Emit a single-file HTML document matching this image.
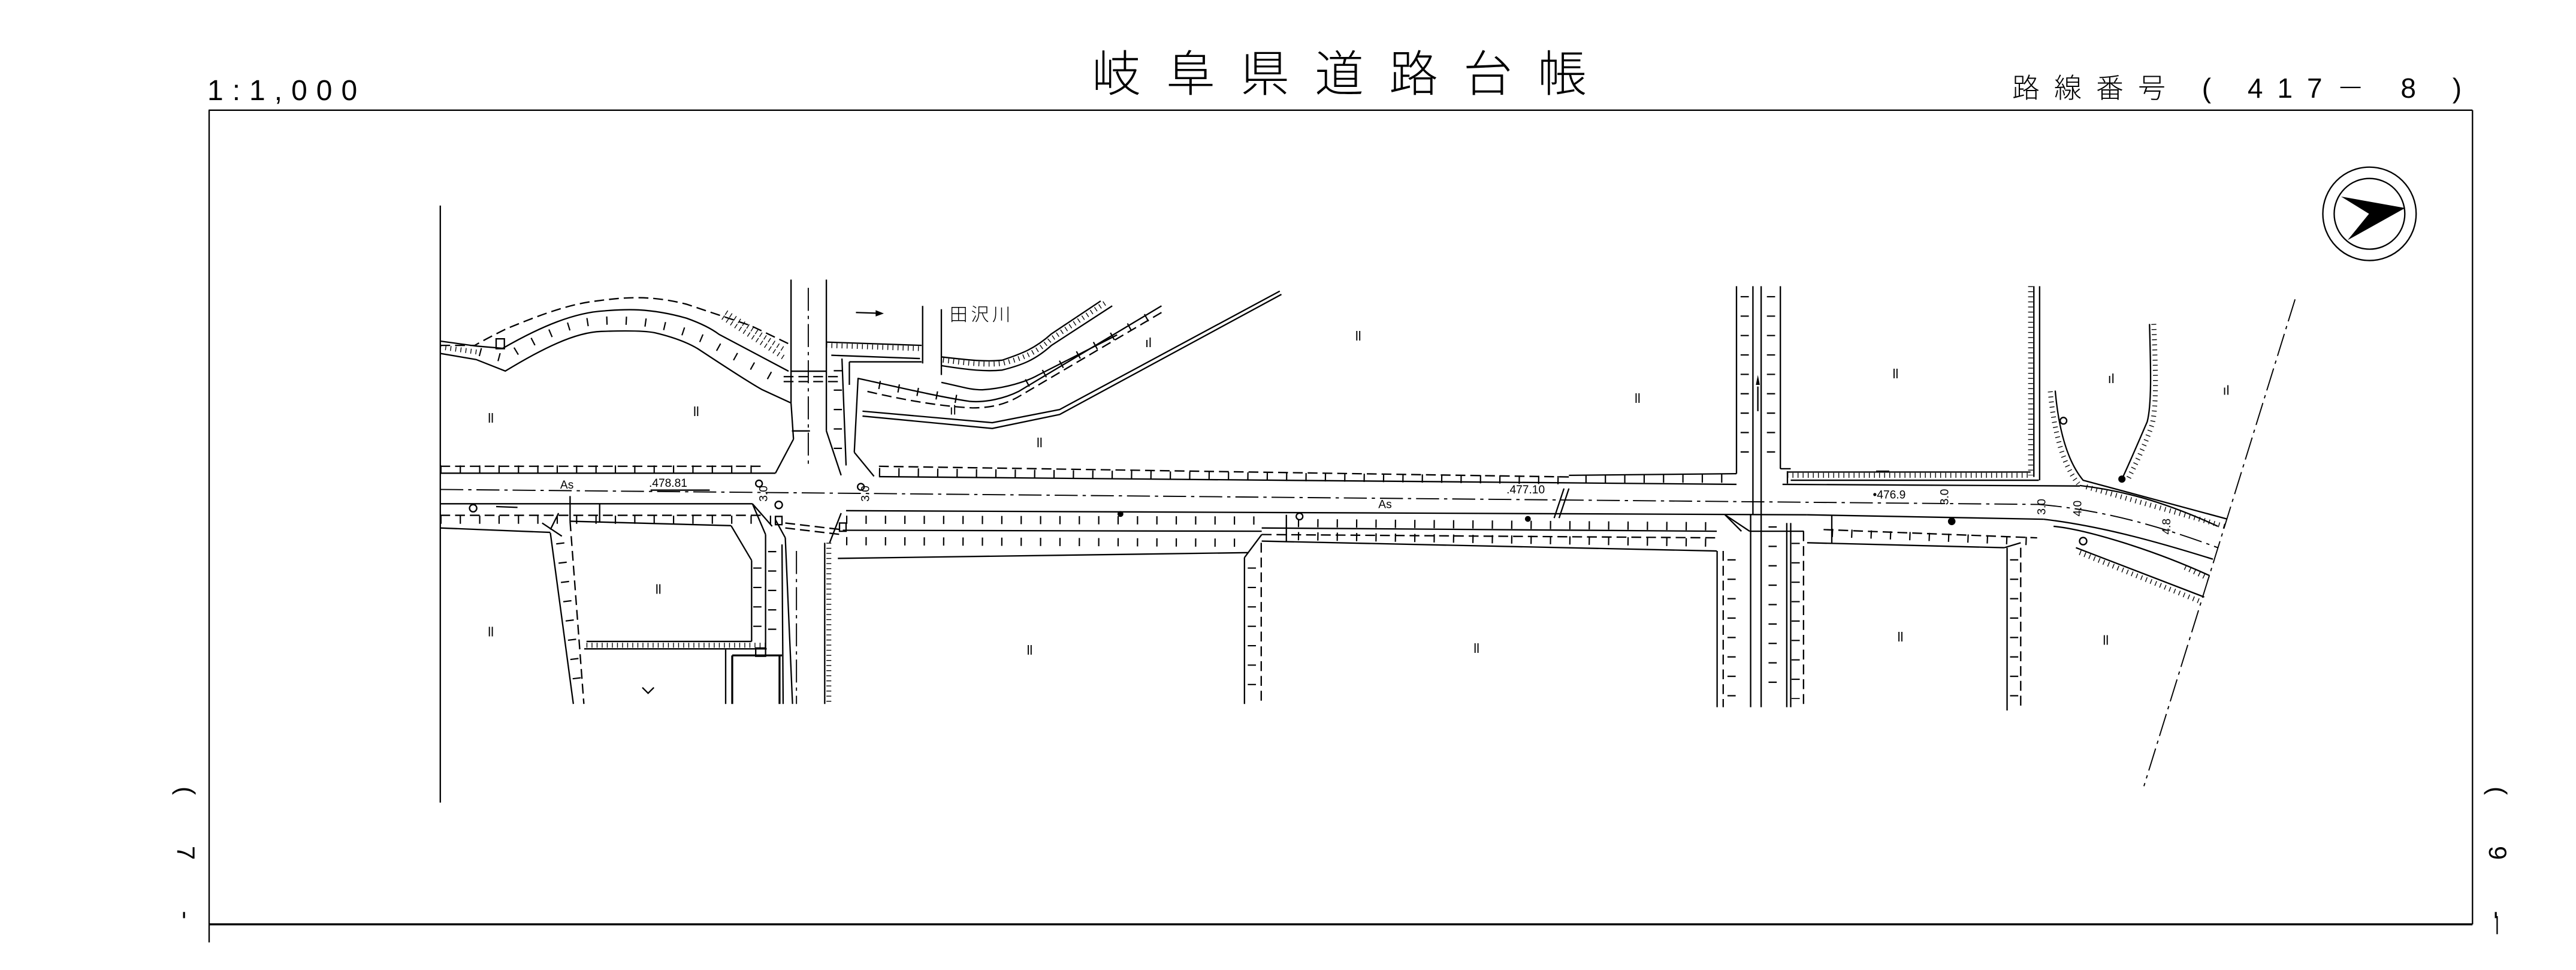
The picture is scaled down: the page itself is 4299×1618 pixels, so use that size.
<!DOCTYPE html>
<html><head><meta charset="utf-8">
<style>
html,body{margin:0;padding:0;background:#fff;}
body{width:4299px;height:1572px;position:relative;overflow:hidden;font-family:"Liberation Sans","Noto Sans CJK JP",sans-serif;}
.t{position:absolute;white-space:nowrap;color:#000;line-height:1;}
svg{position:absolute;left:0;top:0;}
.s{stroke:#000;fill:none;stroke-width:0.85}
.b{stroke:#000;fill:none;stroke-width:1.2}
.d{stroke:#000;fill:none;stroke-width:0.85;stroke-dasharray:6 3}
.c{stroke:#000;fill:none;stroke-width:0.7;stroke-dasharray:14 3 2 3}
.tk{stroke:#000;fill:none;stroke-width:5;stroke-dasharray:0.8 11}
.h{stroke:#000;fill:none;stroke-width:3;stroke-dasharray:0.5 2.6}
.l{font-family:"Liberation Sans",sans-serif;font-size:7px;fill:#000;}
.g{font-family:"Liberation Sans",sans-serif;font-size:8px;fill:#000;}
</style></head><body>

<div class="t" style="left:1822px;top:76px;font-size:82px;letter-spacing:42px;font-family:'Noto Sans CJK JP',sans-serif;font-weight:300;">岐阜県道路台帳</div>
<div class="t" style="left:346px;top:128px;font-size:48px;letter-spacing:15px;">1:1,000</div>
<div class="t" style="left:3358px;top:124px;font-size:46px;letter-spacing:24px;font-family:'Liberation Sans','Noto Sans CJK JP',sans-serif;font-weight:300;">路線番号 ( 417－ 8 )</div>
<div class="t" style="left:331px;top:1312px;font-size:42px;letter-spacing:85px;transform:rotate(90deg);transform-origin:0 0;">(7-</div>
<div class="t" style="left:4189px;top:1312px;font-size:42px;letter-spacing:85px;transform:rotate(90deg);transform-origin:0 0;">(9-</div>

<svg width="4299" height="1572" viewBox="0 0 1568 573" preserveAspectRatio="none">
<!-- frame -->
<line class="s" x1="127" y1="67" x2="1505" y2="67"/>
<line class="s" x1="127.3" y1="67" x2="127.3" y2="573"/>
<line class="s" x1="1505" y1="67" x2="1505" y2="562"/>
<line class="b" x1="127" y1="562" x2="1505" y2="562"/>
<line class="s" x1="1520" y1="557" x2="1520" y2="568"/>
<line class="s" x1="268" y1="125" x2="268" y2="488"/>
<line class="c" x1="1397" y1="182" x2="1305" y2="478"/>

<!-- north arrow -->
<circle cx="1442.3" cy="130" r="28.4" class="s" stroke-width="0.6"/>
<circle cx="1442.3" cy="130" r="21.5" class="s" stroke-width="0.6"/>
<polygon points="1425,119.5 1464,126.5 1429,146 1442,130" fill="#000"/>

<!-- main road -->
<line class="d" x1="268" y1="283.5" x2="466" y2="283.5"/>
<line class="tk" x1="268" y1="285.5" x2="466" y2="285.5"/>
<line class="s" x1="268" y1="287.7" x2="472" y2="287.7"/>
<line class="d" x1="535" y1="283.5" x2="955" y2="290"/>
<line class="tk" x1="535" y1="287" x2="955" y2="292"/>
<line class="s" x1="535" y1="289.8" x2="1057" y2="294.5"/>
<line class="s" x1="955" y1="289" x2="1057" y2="288"/>
<line class="tk" x1="965" y1="291" x2="1050" y2="291"/>
<line class="s" x1="1085" y1="294.5" x2="1266" y2="295.5"/>
<line class="s" x1="1088" y1="286.5" x2="1088" y2="294"/>
<line class="s" x1="1088" y1="287" x2="1236" y2="287"/>
<line class="h" x1="1088" y1="289" x2="1236" y2="289"/>
<line class="s" x1="1090" y1="292" x2="1241" y2="292"/>
<line class="s" x1="1142" y1="286.5" x2="1150" y2="286.5"/>
<line class="c" x1="268" y1="297.6" x2="1241" y2="306.7"/>
<line class="s" x1="268" y1="306.3" x2="458" y2="306.3"/>
<line class="s" x1="515" y1="310.5" x2="1100" y2="313"/>
<line class="s" x1="1100" y1="313" x2="1244" y2="315.7"/>
<line class="d" x1="268" y1="313.3" x2="465" y2="313.3"/>
<line class="tk" x1="268" y1="316" x2="470" y2="316"/>
<line class="s" x1="268" y1="321" x2="335" y2="323.7"/>
<line class="s" x1="347" y1="316.9" x2="445" y2="319.6"/>
<line class="s" x1="347" y1="301.6" x2="347" y2="317"/>
<line class="s" x1="365" y1="306" x2="365" y2="317"/>
<line class="s" x1="445" y1="319.6" x2="457.5" y2="340.7"/>
<line class="s" x1="458" y1="306.3" x2="470" y2="320"/>
<line class="tk" x1="515" y1="316" x2="768" y2="316.5"/>
<line class="s" x1="513" y1="322.4" x2="768" y2="323"/>
<line class="tk" x1="515" y1="329" x2="760" y2="330"/>
<line class="s" x1="510" y1="339.5" x2="760" y2="336"/>
<line class="s" x1="768" y1="321" x2="1045" y2="323"/>
<line class="tk" x1="790" y1="318" x2="1045" y2="320"/>
<line class="d" x1="768" y1="325" x2="1045" y2="327"/>
<line class="tk" x1="790" y1="326" x2="1045" y2="330"/>
<line class="s" x1="768" y1="329" x2="1045" y2="335"/>
<line class="s" x1="783" y1="313" x2="783" y2="329"/>
<line class="s" x1="1050" y1="313" x2="1065" y2="323"/>
<line class="s" x1="1065" y1="323" x2="1098" y2="323"/>
<line class="d" x1="1110" y1="322" x2="1240" y2="327"/>
<line class="tk" x1="1115" y1="324" x2="1235" y2="329"/>
<line class="s" x1="1100" y1="330" x2="1220" y2="333"/>
<line class="s" x1="1115" y1="313" x2="1115" y2="330"/>

<!-- intersection 1 north road -->
<line class="s" x1="481.5" y1="170" x2="481.5" y2="245"/>
<line class="s" x1="481.5" y1="245" x2="483" y2="267"/>
<line class="s" x1="483" y1="267" x2="472" y2="287.7"/>
<line class="s" x1="503" y1="170" x2="503" y2="262"/>
<line class="s" x1="503" y1="262" x2="512" y2="289"/>
<line class="s" x1="481.5" y1="225.7" x2="503" y2="225.7"/>
<line class="d" x1="477" y1="229" x2="510" y2="229"/>
<line class="d" x1="477" y1="232" x2="510" y2="232"/>
<line class="s" x1="482" y1="262" x2="493" y2="262"/>
<line class="s" x1="512.5" y1="218" x2="515" y2="283"/>
<line class="s" x1="522.3" y1="230" x2="520" y2="275"/>
<line class="s" x1="520" y1="275" x2="532" y2="289.6"/>
<line class="tk" x1="510" y1="225" x2="510" y2="280"/>
<line class="c" x1="492" y1="175" x2="492" y2="285"/>
<line class="s" x1="458" y1="306.3" x2="466" y2="325"/>
<line class="s" x1="466" y1="325" x2="466" y2="395"/>
<line class="s" x1="476" y1="331" x2="476.7" y2="428"/>
<line class="s" x1="472" y1="316" x2="478" y2="327"/>
<line class="s" x1="478" y1="327" x2="482.4" y2="428"/>
<line class="c" x1="484.8" y1="335" x2="484.8" y2="428"/>
<line class="s" x1="512" y1="312" x2="505" y2="330"/>
<line class="s" x1="502" y1="330" x2="502" y2="428"/>
<line class="h" x1="504.5" y1="330" x2="504.5" y2="428"/>
<line class="tk" x1="470" y1="335" x2="470" y2="390"/>
<line class="d" x1="478" y1="318" x2="512" y2="322"/>
<line class="d" x1="478" y1="321" x2="512" y2="325"/>
<rect x="472" y="314" width="4" height="5" class="s" stroke-width="0.6"/>
<rect x="511" y="318" width="4" height="5" class="s" stroke-width="0.6"/>
<circle cx="474" cy="307" r="2.2" class="s" stroke-width="0.6"/>
<circle cx="288" cy="309" r="2.2" class="s" stroke-width="0.6"/>
<line class="s" x1="302" y1="308" x2="315" y2="308.5"/>

<!-- left south street & block -->
<line class="s" x1="335" y1="324" x2="349" y2="428"/>
<line class="d" x1="347" y1="317" x2="355.4" y2="428"/>
<line class="tk" x1="341" y1="330" x2="352" y2="420"/>
<line class="s" x1="335" y1="322" x2="340" y2="312"/>
<line class="s" x1="330" y1="318" x2="342" y2="326"/>
<line class="s" x1="457.5" y1="340.7" x2="457.5" y2="390"/>
<line class="s" x1="357" y1="390" x2="457.5" y2="390"/>
<line class="h" x1="357" y1="392.3" x2="466" y2="392.3"/>
<line class="s" x1="355.6" y1="394.5" x2="466.7" y2="394.5"/>
<line class="tk" x1="461" y1="345" x2="461" y2="388"/>
<line class="s" x1="441.7" y1="395" x2="441.7" y2="428"/>
<line class="b" x1="445.7" y1="398.5" x2="476" y2="398.5"/>
<line class="b" x1="445.7" y1="398.5" x2="445.7" y2="428"/>
<line class="b" x1="474.5" y1="398.5" x2="474.5" y2="428"/>
<rect x="460" y="394" width="6" height="5" class="s" stroke-width="0.6"/>

<!-- upper-left curved road -->
<path class="d" d="M268,210 L289,210 C296,206 300,204 308,200 C325,193 345,185 363,183 C378,181 395,179 418,185 C430,189 445,194 457,198 L480,209"/>
<path class="s" d="M268,207.4 L289.8,210.4 L306,211.8 C330,198 350,190 368,189 C380,188 395,187 418,193.5 C425,196 432,199 437.7,203.3 L480,225.7"/>
<path class="s" d="M268,214.9 L289.8,218.6 L307.6,225.6 C330,212 350,202 366,201.5 C380,201 392,201 398.5,202.3 C410,205 418,208 424.7,212 C440,222 455,232 463.7,236.8 L481.5,245"/>
<line class="h" x1="268" y1="211" x2="290" y2="214"/>
<path class="tk" d="M292,214 L307,218 C330,203 350,195 368,195 C390,194 410,198 430,207 L475,232"/>
<path class="h" d="M440,193 L478,218" />
<path class="h" d="M442,190 L478,213" />
<rect x="302" y="206" width="5" height="6" class="s" stroke-width="0.5"/>

<!-- river -->
<line class="s" x1="503" y1="208" x2="561" y2="210"/>
<line class="h" x1="503" y1="210" x2="561" y2="212"/>
<line class="s" x1="506" y1="216" x2="560" y2="218"/>
<line class="s" x1="517" y1="220" x2="517" y2="234"/>
<line class="s" x1="517" y1="220" x2="561" y2="220"/>
<line class="s" x1="561.6" y1="186" x2="561.6" y2="221"/>
<line class="s" x1="573" y1="188" x2="573" y2="228"/>
<path class="s" d="M573,222.3 C590,225 600,226 610,225 C622,222 630,219 640,210 L677,186"/>
<path class="h" d="M574,219 C590,221 600,222 610,221 C622,218 630,215 640,206 L673,184"/>
<path class="s" d="M573,217 C590,219 600,220 610,219 C622,215 630,212 640,203 L670,183"/>
<path class="s" d="M573,232.5 C585,235 590,237 598,237 C612,236 625,232 632,228 L680,203.6"/>
<path class="s" d="M522,230 C545,235 570,241 590,244 C600,245 612,242 620,238 L707,186"/>
<path class="d" d="M528,238 C545,242 570,247 592,248 C605,248 614,245 622,240 L707,190"/>
<line class="tk" x1="535" y1="234" x2="590" y2="244"/>
<line class="tk" x1="625" y1="233" x2="700" y2="192"/>
<path class="s" d="M525,250 L604,257 L645,249 L779,177"/>
<path class="s" d="M525,253 L604,260.5 L645,252 L780,179"/>
<line class="s" x1="521" y1="190" x2="536" y2="190.5"/>
<polygon points="538,190.6 533,188.6 533,192.4" fill="#000"/>
<text x="578" y="195" style="font-family:'Noto Sans CJK JP',sans-serif;font-size:11px;font-weight:300;letter-spacing:2px">田沢川</text>

<!-- south street 760 -->
<line class="s" x1="757.5" y1="339" x2="757.5" y2="428"/>
<line class="d" x1="767.7" y1="330" x2="767.7" y2="428"/>
<line class="tk" x1="762" y1="345" x2="762" y2="425"/>
<line class="s" x1="757.5" y1="339" x2="768" y2="325"/>

<!-- intersection 2 -->
<line class="s" x1="1057" y1="174" x2="1057" y2="288"/>
<line class="s" x1="1067" y1="174" x2="1067" y2="313"/>
<line class="s" x1="1072" y1="174" x2="1072" y2="313"/>
<line class="s" x1="1083.7" y1="174" x2="1083.7" y2="285"/>
<line class="s" x1="1083.7" y1="285" x2="1090" y2="285"/>
<line class="tk" x1="1062" y1="180" x2="1062" y2="285"/>
<line class="tk" x1="1078" y1="180" x2="1078" y2="285"/>
<line class="s" x1="1070" y1="235" x2="1070" y2="250"/>
<polygon points="1070,228 1068.8,234 1071.2,234" fill="#000"/>
<line class="s" x1="1045.2" y1="335" x2="1045.2" y2="430"/>
<line class="d" x1="1048.9" y1="335" x2="1048.9" y2="430"/>
<line class="s" x1="1065.6" y1="313" x2="1065.6" y2="430"/>
<line class="s" x1="1072" y1="313" x2="1072" y2="430"/>
<line class="s" x1="1087.6" y1="318" x2="1087.6" y2="430"/>
<line class="s" x1="1090" y1="318" x2="1090" y2="430"/>
<line class="d" x1="1097.8" y1="323" x2="1097.8" y2="430"/>
<line class="tk" x1="1054" y1="340" x2="1054" y2="425"/>
<line class="tk" x1="1079" y1="320" x2="1079" y2="425"/>
<line class="tk" x1="1093" y1="330" x2="1093" y2="425"/>

<!-- intersection 3 -->
<line class="h" x1="1236" y1="174" x2="1236" y2="289"/>
<line class="s" x1="1238" y1="174" x2="1238" y2="290"/>
<line class="s" x1="1241.5" y1="174" x2="1241.5" y2="292"/>
<line class="s" x1="1221.7" y1="333" x2="1221.7" y2="432"/>
<line class="d" x1="1230" y1="333" x2="1230" y2="432"/>
<line class="tk" x1="1226" y1="340" x2="1226" y2="428"/>
<line class="s" x1="1220" y1="333" x2="1230" y2="330"/>

<!-- right bend -->
<path class="s" d="M1266,295.2 C1290,298 1315,304 1350,320"/>
<path class="s" d="M1251,237.5 C1253,260 1258,280 1268,292 L1355.8,315.6"/>
<path class="h" d="M1248,238 C1250,260 1255,282 1265,294"/>
<path class="h" d="M1270,296 L1354,320"/>
<path class="s" d="M1308.4,197 C1309,220 1310,245 1307,256.4 C1302,268 1296,282 1291.6,291.3"/>
<path class="h" d="M1311,197 C1312,222 1313,246 1310,258 C1306,270 1300,282 1295,292"/>
<path class="c" d="M1241,306.7 C1280,310 1315,320 1350,333"/>
<path class="s" d="M1244,315.7 C1280,320 1315,330 1347,340"/>
<path class="s" d="M1263.6,333 L1341.7,363"/>
<path class="h" d="M1266,336 L1340,366"/>
<path class="s" d="M1250,320 C1270,322 1310,334 1345,350"/>
<line class="h" x1="1330" y1="345" x2="1345" y2="352"/>
<circle cx="1256" cy="255.8" r="2" class="s" stroke-width="0.6"/>
<circle cx="1291.6" cy="291.3" r="2.2" fill="#000"/>
<circle cx="1188" cy="317" r="2.3" fill="#000"/>
<circle cx="930" cy="315.5" r="1.8" fill="#000"/>
<circle cx="682" cy="312.5" r="1.8" fill="#000"/>
<circle cx="791" cy="314" r="2" class="s" stroke-width="0.6"/>
<circle cx="1268" cy="329" r="2.2" class="s" stroke-width="0.6"/>
<line class="s" x1="946" y1="315" x2="952" y2="297"/>
<line class="s" x1="949" y1="315" x2="955" y2="297"/>
<line class="s" x1="1050" y1="313" x2="1060" y2="323"/>

<!-- labels -->
<text class="l" x="341" y="297">As</text>
<text class="l" x="395" y="296">.478.81</text>
<line class="s" x1="396" y1="298" x2="432" y2="298" stroke-width="0.5"/>
<text class="l" x="839" y="309">As</text>
<text class="l" x="917" y="300">.477.10</text>
<text class="l" x="1140" y="303">•476.9</text>
<text class="l" transform="translate(467,305) rotate(-90)">3.0</text>
<text class="l" transform="translate(529,305) rotate(-90)">3.0</text>
<text class="l" transform="translate(1186,307) rotate(-90)">3.0</text>
<text class="l" transform="translate(1245,313) rotate(-90)">3.0</text>
<text class="l" transform="translate(1267,314) rotate(-90)">4.0</text>
<text class="l" transform="translate(1321,325) rotate(-90)">4.8</text>
<circle cx="462" cy="294" r="2" class="s" stroke-width="0.5"/>
<circle cx="524" cy="296" r="2" class="s" stroke-width="0.5"/>
<text class="g" x="297" y="257">ll</text>
<text class="g" x="422" y="253">ll</text>
<text class="g" x="631" y="272">ll</text>
<text class="g" x="825" y="207">ll</text>
<text class="g" x="995" y="245">ll</text>
<text class="g" x="1152" y="230">ll</text>
<text class="g" x="399" y="361">ll</text>
<text class="g" x="297" y="387">ll</text>
<text class="g" x="625" y="398">ll</text>
<text class="g" x="897" y="397">ll</text>
<text class="g" x="1155" y="390">ll</text>
<text class="g" x="1280" y="392">ll</text>
<text class="g" x="578" y="252">ıl</text>
<text class="g" x="697" y="211">ıl</text>
<text class="g" x="1283" y="233">ıl</text>
<text class="g" x="1353" y="240">ıl</text>
<path class="s" d="M391,418 L394.5,421.5 L398,418" stroke-width="0.6"/>
</svg>
</body></html>
